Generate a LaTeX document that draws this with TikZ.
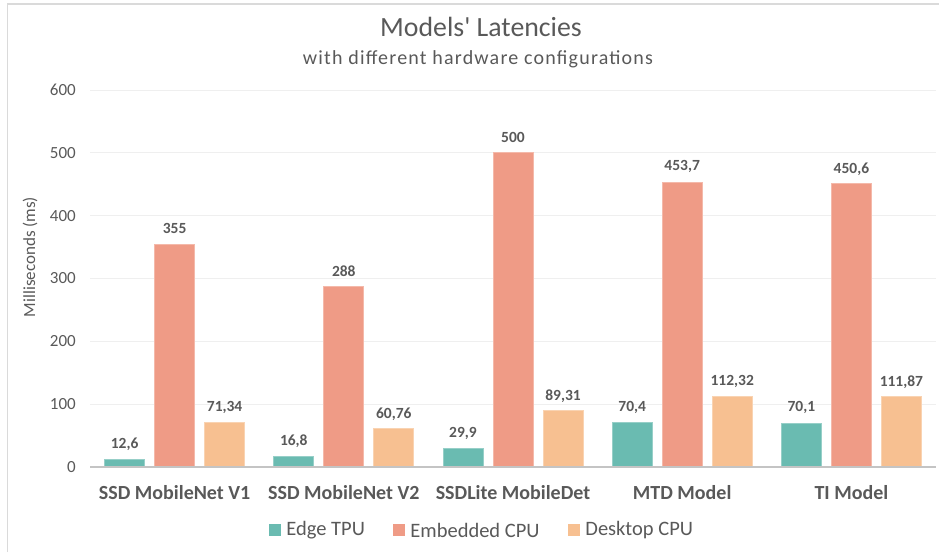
\documentclass[tikz,border=0pt]{standalone}
\usepackage{fontspec}
\setmainfont{Carlito}
\newfontfamily\subfont[LetterSpace=6]{Carlito}
\newfontfamily\titlefont[Ligatures=TeXOff]{Carlito}
\usetikzlibrary{positioning}
\definecolor{tpu}{HTML}{6ABBB1}
\definecolor{emb}{HTML}{EF9B86}
\definecolor{desk}{HTML}{F7C091}
\definecolor{txt}{HTML}{595959}
\definecolor{gridc}{HTML}{EFEFEF}
\definecolor{axisc}{HTML}{C4C4C4}
\definecolor{framec}{HTML}{DADADA}
\tikzset{
  latbar/.style={fill=#1, draw=#1!70!white, line width=0.8pt},
  gridline/.style={draw=gridc, line width=1pt},
  ticklab/.style={text=txt, anchor=east, inner sep=0pt, font=\fontsize{17}{20}\selectfont},
  vallab/.style={text=txt, inner sep=0pt, font=\fontsize{15.5}{18}\selectfont\bfseries},
  catlab/.style={text=txt, inner sep=0pt, font=\fontsize{20}{24}\selectfont\bfseries},
  legsq/.style={fill=#1, minimum size=12pt, inner sep=0pt},
  leglab/.style={text=txt, inner sep=0pt, font=\fontsize{20.5}{24}\selectfont}
}
\newcommand\ypos[1]{467-#1*0.6283}

\begin{document}
\begin{tikzpicture}[x={(1pt,0)}, y={(0,-1pt)}]
  \useasboundingbox (0,0) rectangle (939,552);
  % frame
  \draw[framec, line width=1.5pt] (7.5,552) -- (7.5,4) -- (939,4);

  % title
  \node[text=txt, font=\fontsize{27.8}{32}\titlefont] (title) at (481,27) {Models' Latencies};
  \node[text=txt, font=\fontsize{20}{24}\subfont] (subtitle) at (478,59) {with different hardware configurations};

  % grid and axis
  \foreach \v in {100,200,...,600}
    \draw[gridline] (90,{\ypos{\v}}) -- (936,{\ypos{\v}});
  \foreach \v in {0,100,...,600}
    \node[ticklab] (tick\v) at (76,{\ypos{\v}}) {\v};
  \node[text=txt, rotate=90, font=\fontsize{17}{20}\selectfont] (ytitle) at (30,257) {Milliseconds (ms)};

  % bars
  \foreach \i/\a/\b/\c/\la/\lb/\lc/\name in {
      1/12.6/355/71.34/{12,6}/{355}/{71,34}/{SSD MobileNet V1},
      2/16.8/288/60.76/{16,8}/{288}/{60,76}/{SSD MobileNet V2},
      3/29.9/500/89.31/{29,9}/{500}/{89,31}/{SSDLite MobileDet},
      4/70.4/453.7/112.32/{70,4}/{453,7}/{112,32}/{MTD Model},
      5/70.1/450.6/111.87/{70,1}/{450,6}/{111,87}/{TI Model}} {
    \pgfmathsetmacro\cx{90+169.2*(\i-0.5)}
    \path[latbar=tpu] (\cx-70,467) rectangle (\cx-30,{\ypos{\a}});
    \path[latbar=emb] (\cx-20,467) rectangle (\cx+20,{\ypos{\b}});
    \path[latbar=desk] (\cx+30,467) rectangle (\cx+70,{\ypos{\c}});
    \node[vallab] (val\i a) at (\cx-50,{\ypos{\a}-15}) {\la};
    \node[vallab] (val\i b) at (\cx,{\ypos{\b}-15}) {\lb};
    \node[vallab] (val\i c) at (\cx+50,{\ypos{\c}-15}) {\lc};
    \node[catlab] (cat\i) at (\cx,493) {\name};
  }
  \draw[axisc, line width=1.5pt] (90,467) -- (936,467);

  % legend
  \node[legsq=tpu] (sqtpu) at (275,530) {};
  \node[leglab, right=5pt of sqtpu] (labtpu) {Edge TPU};
  \node[legsq=emb] (sqemb) at (399,530) {};
  \node[leglab, right=5pt of sqemb] (labemb) {Embedded CPU};
  \node[legsq=desk] (sqdesk) at (574,530) {};
  \node[leglab, right=5pt of sqdesk] (labdesk) {Desktop CPU};
\end{tikzpicture}
\end{document}
